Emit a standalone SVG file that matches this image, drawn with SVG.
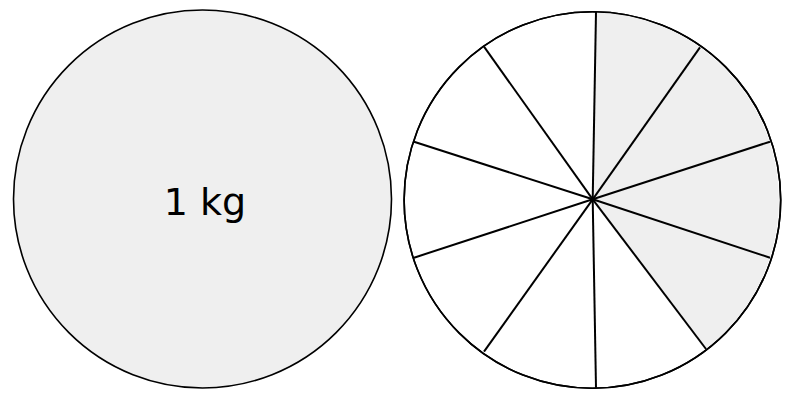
<svg xmlns="http://www.w3.org/2000/svg" width="796" height="418" viewBox="0 0 796 418">
<style>
.c{stroke:#000;stroke-width:1.6}
.s{stroke:#000;stroke-width:2;fill:none}
.t{font-family:"DejaVu Sans",sans-serif;font-size:38px;fill:#000}
</style>
<rect width="796" height="418" fill="#fff"/>
<g id="whole">
<circle class="c" cx="202.5" cy="199" r="189" fill="#efefef"/>
<text class="t" x="205" y="215" text-anchor="middle">1 kg</text>
</g>
<g id="parts">
<circle class="c" cx="592.4" cy="200" r="188.3" fill="#fff"/>
<path d="M592.7 199.3 L596 12 A188.3 188.3 0 0 1 706 349 Z" fill="#efefef"/>
<circle cx="592.4" cy="200" r="188.3" fill="none" class="c"/>
</g>
<g id="spokes" class="s">
<line x1="592.7" y1="199.3" x2="596" y2="12"/>
<line x1="592.7" y1="199.3" x2="700" y2="47.3"/>
<line x1="592.7" y1="199.3" x2="770" y2="141.7"/>
<line x1="592.7" y1="199.3" x2="770" y2="257.7"/>
<line x1="592.7" y1="199.3" x2="706" y2="349"/>
<line x1="592.7" y1="199.3" x2="596" y2="387.7"/>
<line x1="592.7" y1="199.3" x2="484" y2="351.7"/>
<line x1="592.7" y1="199.3" x2="414" y2="257.7"/>
<line x1="592.7" y1="199.3" x2="414" y2="141.7"/>
<line x1="592.7" y1="199.3" x2="484" y2="46.7"/>
</g>
</svg>
